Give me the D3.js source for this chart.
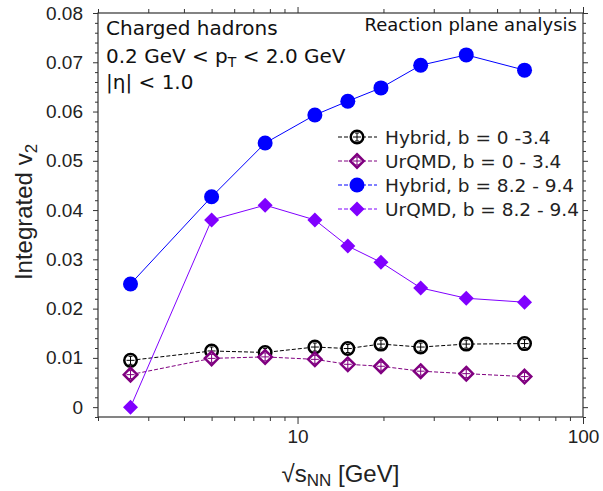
<!DOCTYPE html>
<html><head><meta charset="utf-8">
<script src="https://cdn.jsdelivr.net/npm/d3@7"></script>
<style>body{margin:0;background:#fff}</style>
</head><body><svg id="c" width="603" height="491"></svg>
<script>
const energies = [2.6, 5, 7.7, 11.5, 15, 19.6, 27, 39, 62.4];
const hybridCentral = [0.0095, 0.0114, 0.0111, 0.0122, 0.0119, 0.0128, 0.0122, 0.0128, 0.0129];
const urqmdCentral  = [0.0066, 0.0099, 0.0102, 0.0097, 0.0087, 0.0083, 0.0073, 0.0068, 0.0062];
const hybridPeriph  = [0.0250, 0.0427, 0.0536, 0.0593, 0.0621, 0.0648, 0.0694, 0.0715, 0.0684];
const urqmdPeriph   = [0.0000, 0.0380, 0.0410, 0.0380, 0.0327, 0.0294, 0.0242, 0.0221, 0.0213];
const seriesNames = ["Hybrid, b = 0 -3.4", "UrQMD, b = 0 - 3.4", "Hybrid, b = 8.2 - 9.4", "UrQMD, b = 8.2 - 9.4"];
const yTicks = [0, 0.01, 0.02, 0.03, 0.04, 0.05, 0.06, 0.07, 0.08];
const xTicks = [10, 100];

const svg = d3.select("#c");
const L = 98, R = 583, T = 13, B = 417;
const x = d3.scaleLog().domain([2, 100]).range([L, R]);
const y = d3.scaleLinear().domain([-0.002, 0.08]).range([B, T]);
const axCol = "#333";

const xMinor = [];
for (let d = 1; d <= 10; d *= 10) for (let k = 2; k <= 9; k++) if (k*d >= 2 && k*d < 100) xMinor.push(k*d);
const yMinor = d3.range(-1, 41).map(i => i * 0.002).filter(v => Math.abs(Math.round(v*100) - v*100) > 1e-6);

function addAxis(axis, tr) {
  const g = svg.append("g").attr("transform", tr).call(axis);
  g.select(".domain").remove();
  g.selectAll("line").attr("stroke", axCol);
  return g;
}
addAxis(d3.axisBottom(x).tickValues(xMinor).tickSize(4).tickFormat(""), `translate(0,${B})`);
const gxb = addAxis(d3.axisBottom(x).tickValues(xTicks).tickSize(7).tickPadding(6).tickFormat(d3.format("d")), `translate(0,${B})`);
gxb.selectAll("text").attr("font-family", "Liberation Sans, Arial, sans-serif").attr("font-size", 19).attr("fill", "#222");
addAxis(d3.axisTop(x).tickValues(xMinor).tickSize(4).tickFormat(""), `translate(0,${T})`);
addAxis(d3.axisTop(x).tickValues(xTicks).tickSize(6).tickFormat(""), `translate(0,${T})`);
addAxis(d3.axisLeft(y).tickValues(yMinor).tickSize(3).tickFormat(""), `translate(${L},0)`);
const gyl = addAxis(d3.axisLeft(y).tickValues(yTicks).tickSize(5).tickPadding(10).tickFormat(d => d === 0 ? "0" : d3.format(".2f")(d)), `translate(${L},0)`);
gyl.selectAll("text").attr("font-family", "Liberation Sans, Arial, sans-serif").attr("font-size", 19).attr("fill", "#222");
addAxis(d3.axisRight(y).tickValues(yMinor).tickSize(3).tickFormat(""), `translate(${R},0)`);
addAxis(d3.axisRight(y).tickValues(yTicks).tickSize(5).tickFormat(""), `translate(${R},0)`);

svg.append("rect").attr("x", L).attr("y", T).attr("width", R - L).attr("height", B - T)
  .attr("fill", "none").attr("stroke", axCol).attr("stroke-width", 1.2);

const xl = svg.append("text").attr("x", (L + R) / 2).attr("y", 482).attr("text-anchor", "middle")
  .attr("font-family", "Liberation Sans, Arial, sans-serif").attr("font-size", 24).attr("fill", "#222");
xl.append("tspan").text("√s");
xl.append("tspan").attr("font-size", 17).attr("dy", 4).text("NN");
xl.append("tspan").attr("dy", -4).text(" [GeV]");

const yl = svg.append("text").attr("transform", `translate(32,${(T + B) / 2 - 3}) rotate(-90)`).attr("text-anchor", "middle")
  .attr("font-family", "Liberation Sans, Arial, sans-serif").attr("font-size", 24).attr("fill", "#222");
yl.append("tspan").text("Integrated v");
yl.append("tspan").attr("font-size", 17).attr("dy", 5).text("2");

const series = [
  {vals: hybridCentral, color: "#000", marker: "circle", fill: "none", dash: "4,2", lw: 1, r: 7.5, cross: true},
  {vals: urqmdCentral, color: "#800080", marker: "diamond", fill: "none", dash: "4,2", lw: 1, r: 8, cross: true},
  {vals: hybridPeriph, color: "#0000ff", marker: "circle", fill: "#0000ff", dash: null, lw: 1, r: 7.5, cross: false},
  {vals: urqmdPeriph, color: "#8000ff", marker: "diamond", fill: "#8000ff", dash: null, lw: 1, r: 7.5, cross: false}
];

function drawMarker(g, s, cx, cy) {
  const open = s.fill === "none";
  if (s.marker === "circle") {
    g.append("circle").attr("cx", cx).attr("cy", cy).attr("r", open ? s.r - 1.25 : s.r)
      .attr("fill", open ? "#fff" : s.fill).attr("stroke", s.color).attr("stroke-width", open ? 2.5 : 0);
  } else {
    const r = open ? s.r - 1.25 : s.r;
    g.append("path").attr("d", `M${cx},${cy - r}L${cx + r},${cy}L${cx},${cy + r}L${cx - r},${cy}Z`)
      .attr("fill", open ? "#fff" : s.fill).attr("stroke", s.color).attr("stroke-width", open ? 2.5 : 0);
  }
  if (s.cross) {
    const c = 4;
    g.append("path").attr("d", `M${cx - c},${cy}H${cx + c}M${cx},${cy - c}V${cy + c}M${cx - 2},${cy - c}H${cx + 2}M${cx - 2},${cy + c}H${cx + 2}`)
      .attr("stroke", s.color).attr("stroke-width", 1).attr("fill", "none");
  }
}

const line = d3.line().x(d => x(d[0])).y(d => y(d[1]));
series.forEach(s => {
  const pts = energies.map((e, i) => [e, s.vals[i]]);
  svg.append("path").attr("d", line(pts)).attr("fill", "none").attr("stroke", s.color)
    .attr("stroke-width", s.lw).attr("stroke-dasharray", s.dash);
});
series.forEach(s => {
  const g = svg.append("g");
  energies.forEach((e, i) => drawMarker(g, s, x(e), y(s.vals[i])));
});

const legY0 = 137, legDy = 24, legX = 338;
series.forEach((s, i) => {
  const ly = legY0 + i * legDy;
  const g = svg.append("g");
  g.append("line").attr("x1", legX).attr("x2", legX + 39).attr("y1", ly).attr("y2", ly)
    .attr("stroke", s.color).attr("stroke-width", 1).attr("stroke-dasharray", "4,2");
  drawMarker(g, s, legX + 19, ly);
  g.append("text").attr("x", legX + 47).attr("y", ly + 6.5).attr("font-family", "DejaVu Sans, sans-serif")
    .attr("font-size", 18.5).attr("fill", "#222").text(seriesNames[i]);
});

const af = "DejaVu Sans, sans-serif";
svg.append("text").attr("x", 106).attr("y", 35).attr("font-family", af).attr("font-size", 20).attr("fill", "#111").text("Charged hadrons");
const pt = svg.append("text").attr("x", 106).attr("y", 63).attr("font-family", af).attr("font-size", 20).attr("fill", "#111");
pt.append("tspan").text("0.2 GeV < p");
pt.append("tspan").attr("font-size", 14).attr("dy", 4).text("T");
pt.append("tspan").attr("dy", -4).text(" < 2.0 GeV");
svg.append("text").attr("x", 106).attr("y", 89).attr("font-family", af).attr("font-size", 20).attr("fill", "#111").text("|η| < 1.0");
svg.append("text").attr("x", 577).attr("y", 31).attr("text-anchor", "end").attr("font-family", af).attr("font-size", 18).attr("fill", "#111").text("Reaction plane analysis");
</script></body></html>
